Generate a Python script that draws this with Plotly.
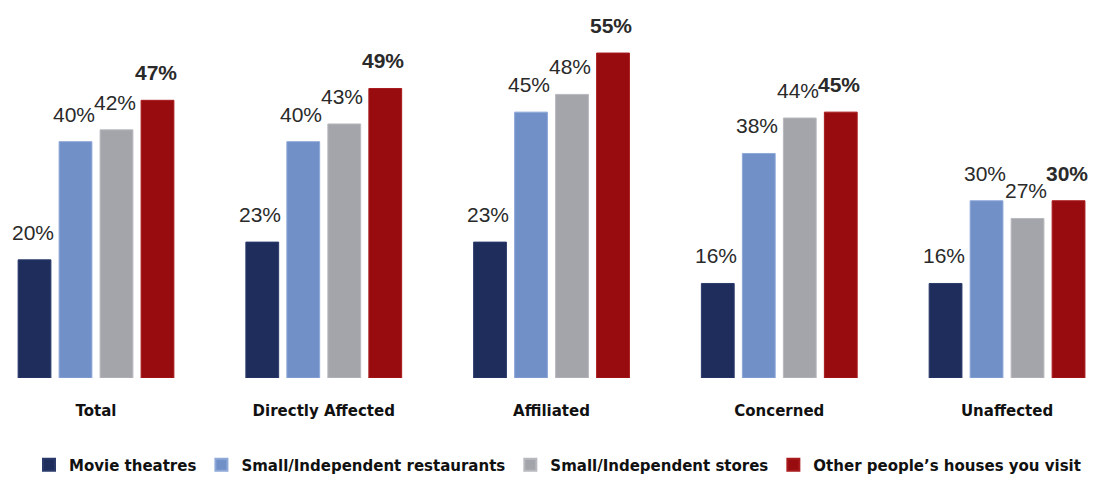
import plotly.graph_objects as go

categories = ["Total", "Directly Affected", "Affiliated", "Concerned", "Unaffected"]
series_names = [
    "Movie theatres",
    "Small/Independent restaurants",
    "Small/Independent stores",
    "Other people’s houses you visit",
]
movie_theatres = [20, 23, 23, 16, 16]
restaurants = [40, 40, 45, 38, 30]
stores = [42, 43, 48, 44, 27]
houses = [47, 49, 55, 45, 30]

series_values = [movie_theatres, restaurants, stores, houses]
colors = ["#1e2d5c", "#7190c8", "#a4a5ab", "#980c0f"]
line_colors = ["#2a3a6a", "#8ea8d8", "#b8b9be", "#a81a1c"]
label_weights = ["normal", "normal", "normal", "bold"]

BARGAP = 0.28
N = len(series_values)
slot = (1 - BARGAP) / N

fig = go.Figure()
for i, (name, vals) in enumerate(zip(series_names, series_values)):
    fig.add_trace(go.Bar(
        name=name,
        x=categories,
        y=vals,
        marker=dict(color=colors[i], line=dict(color=line_colors[i], width=1)),
    ))

# value labels above each bar
annotations = []
for i, vals in enumerate(series_values):
    offset = (i - (N - 1) / 2) * slot
    for c, v in enumerate(vals):
        annotations.append(dict(
            x=c + offset, y=v, xref="x", yref="y",
            text=f"{v}%", showarrow=False,
            yanchor="bottom", yshift=14, xshift=-2,
            font=dict(family="Liberation Sans, Arial", size=21,
                      color="#2a2a2a", weight=label_weights[i]),
        ))

fig.update_layout(
    barmode="group",
    bargap=BARGAP,
    bargroupgap=0.2,
    width=1115, height=481,
    margin=dict(l=0, r=0, t=30, b=103, autoexpand=False),
    paper_bgcolor="white",
    plot_bgcolor="white",
    showlegend=True,
    legend=dict(
        orientation="h", x=0.5, xanchor="center", y=-0.25, yanchor="middle",
        font=dict(family="DejaVu Sans", size=15, color="#111111",
                  weight="bold"),
        itemwidth=30, tracegroupgap=0, itemsizing="constant",
    ),
    annotations=annotations,
    xaxis=dict(
        range=[-0.4215, 4.474],
        showline=False, showgrid=False, zeroline=False,
        ticks="outside", ticklen=19, tickcolor="white",
        tickfont=dict(family="DejaVu Sans", size=15, color="#111111",
                      weight="bold"),
    ),
    yaxis=dict(
        range=[0, 58.9],
        visible=False, showgrid=False, zeroline=False,
    ),
)

fig.write_html("out.html")
